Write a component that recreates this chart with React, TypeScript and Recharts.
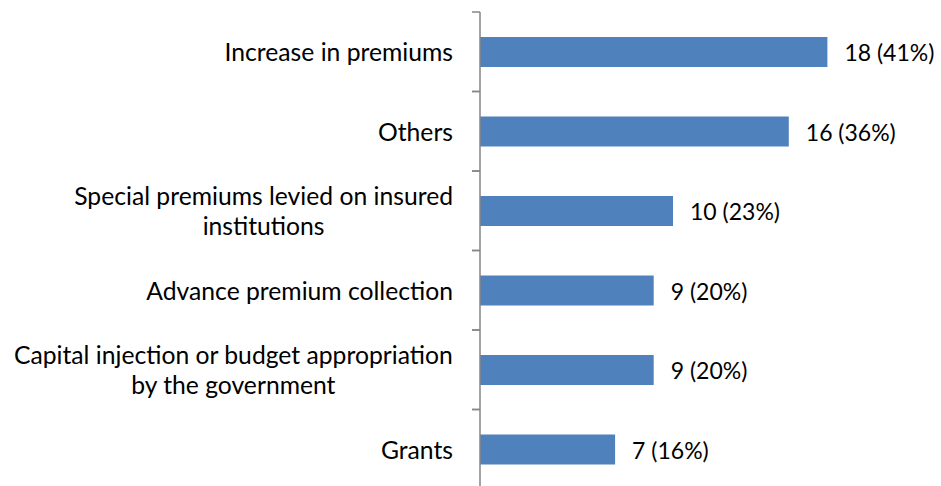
import React from "react";
import { BarChart, Bar, XAxis, YAxis, LabelList } from "recharts";

const categories = [
  "Increase in premiums",
  "Others",
  "Special premiums levied on insured institutions",
  "Advance premium collection",
  "Capital injection or budget appropriation by the government",
  "Grants",
];
const counts = [18, 16, 10, 9, 9, 7];
const percents = [41, 36, 23, 20, 20, 16];

const data = categories.map((name, i) => ({ name, count: counts[i], pct: percents[i] }));

const W = 941;
const H = 490;
const MARGIN = { top: 12, right: 75, bottom: 1, left: 0 };
const AXIS_W = 480;
const FONT = "Lato, 'Liberation Sans', sans-serif";
const FS = 24.7;
const VFS = 23;
const LINE_H = 30;
const BAND = (H - MARGIN.top - MARGIN.bottom) / categories.length;

let ctx: CanvasRenderingContext2D | null = null;
function measure(t: string) {
  if (!ctx) ctx = document.createElement("canvas").getContext("2d");
  if (!ctx) return t.length * FS * 0.5;
  ctx.font = `${FS}px ${FONT}`;
  return ctx.measureText(t).width;
}

function wrap(s: string, max = 41) {
  const words = s.split(" ");
  const lines: string[] = [];
  let cur = "";
  for (const w of words) {
    const next = cur ? cur + " " + w : w;
    if (next.length > max && cur) {
      lines.push(cur);
      cur = w;
    } else cur = next;
  }
  if (cur) lines.push(cur);
  return lines;
}

const CatTick = (props: any) => {
  const { x, y, payload } = props;
  const lines = wrap(payload.value);
  const widths = lines.map(measure);
  const maxW = Math.max(...widths);
  const cx = x - maxW / 2;
  const axisX = x + 27;
  const startY = y - ((lines.length - 1) * LINE_H) / 2;
  return (
    <g>
      <line x1={axisX - 8} x2={axisX} y1={y - BAND / 2} y2={y - BAND / 2} stroke="#868686" strokeWidth={1.5} />
      <line x1={axisX - 8} x2={axisX} y1={y + BAND / 2} y2={y + BAND / 2} stroke="#868686" strokeWidth={1.5} />
      {lines.map((l, i) => (
        <text
          key={i}
          x={cx}
          y={startY + i * LINE_H}
          textAnchor="middle"
          dominantBaseline="central"
          fontFamily={FONT}
          fontSize={FS}
          fill="#000"
        >
          {l}
        </text>
      ))}
    </g>
  );
};

const ValueLabel = (props: any) => {
  const { x, y, width, height, index } = props;
  return (
    <text
      x={x + width + 17}
      y={y + height / 2}
      dominantBaseline="central"
      fontFamily={FONT}
      fontSize={VFS}
      fill="#000"
    >
      {`${counts[index]} (${percents[index]}%)`}
    </text>
  );
};

export default function App() {
  return (
    <div style={{ position: "absolute", left: 0, top: 0, width: W, height: 486, overflow: "hidden", background: "#fff" }}>
      <BarChart width={W} height={H} data={data} layout="vertical" margin={MARGIN}>
        <XAxis type="number" domain={[0, 20]} hide />
        <YAxis
          type="category"
          dataKey="name"
          width={AXIS_W}
          axisLine={{ stroke: "#868686", strokeWidth: 1.5 }}
          tickLine={false}
          tickSize={8}
          tickMargin={19}
          tick={<CatTick />}
          interval={0}
        />
        <Bar dataKey="count" fill="#4F81BD" barSize={30} isAnimationActive={false}>
          <LabelList dataKey="count" content={<ValueLabel />} />
        </Bar>
      </BarChart>
    </div>
  );
}
